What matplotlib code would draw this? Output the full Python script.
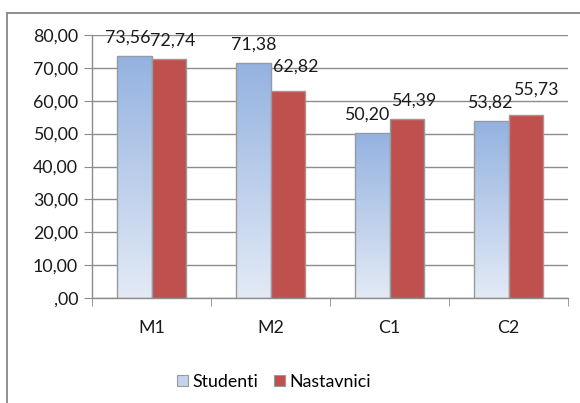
import numpy as np
import matplotlib
matplotlib.use("Agg")
import matplotlib.pyplot as plt
from matplotlib.patches import Rectangle, Patch
from matplotlib.colors import LinearSegmentedColormap

categories = ["M1", "M2", "C1", "C2"]
studenti = [73.56, 71.38, 50.20, 53.82]
nastavnici = [72.74, 62.82, 54.39, 55.73]
series_names = ["Studenti", "Nastavnici"]
y_ticks = [0, 10, 20, 30, 40, 50, 60, 70, 80]

# label nudges in pixels (Excel pushes colliding labels apart)
nudge_s = [(-7, 0), (0, 0), (-6, 0), (-2, 0)]
nudge_n = [(4, 0), (8, 6), (7, 0), (10, 7)]

RED = "#c0504d"
BLUE_TOP = "#94b2e0"
BLUE_BOT = "#e3eaf6"
EDGE = "#9a9a9a"
GRID = "#8c8c8c"
FS = 12.8

plt.rcParams["font.family"] = ["Lato", "DejaVu Sans"]


def fmt(v):
    s = f"{v:.2f}".replace(".", ",")
    return s[1:] if s.startswith("0") else s


fig = plt.figure(figsize=(5.8, 4.03), dpi=100)
fig.patch.set_facecolor("white")
# outer chart border (cut off on the right and bottom like the reference)
fig.add_artist(Rectangle((7 / 580, -0.01), 1.0, 1 - 12.5 / 403 + 0.01,
                         transform=fig.transFigure, fill=False,
                         edgecolor="#868686", linewidth=1.3))

ax = fig.add_axes([92 / 580, 105 / 403, 476 / 580, 263 / 403])
x = np.arange(len(categories))
w = 0.286

cmap = LinearSegmentedColormap.from_list("bl", [BLUE_BOT, BLUE_TOP])
grad = np.linspace(0, 1, 256).reshape(-1, 1)

bars_s = ax.bar(x - w / 2, studenti, w, color="none", edgecolor=EDGE,
                linewidth=1.0, zorder=3)
for b in bars_s:
    im = ax.imshow(grad, cmap=cmap, origin="lower", aspect="auto",
                   extent=[b.get_x(), b.get_x() + b.get_width(), 0, b.get_height()],
                   zorder=2)
    im.set_clip_path(b)
bars_n = ax.bar(x + w / 2, nastavnici, w, color=RED, edgecolor=EDGE,
                linewidth=1.0, zorder=3)

px = 0.72  # points per pixel at 100 dpi
for bars, vals, nudges in ((bars_s, studenti, nudge_s), (bars_n, nastavnici, nudge_n)):
    for b, v, (dx, dy) in zip(bars, vals, nudges):
        ax.annotate(fmt(v), (b.get_x() + b.get_width() / 2, v),
                    xytext=(dx * px, 7.5 + dy * px), textcoords="offset points",
                    ha="center", va="bottom", fontsize=FS, color="#1a1a1a")

ax.set_xlim(-0.5, len(categories) - 0.5)
ax.set_ylim(0, 80)
ax.set_yticks(y_ticks)
ax.set_yticklabels([fmt(t) for t in y_ticks], fontsize=FS, color="#1a1a1a")
ax.set_xticks(x)
ax.set_xticklabels(categories, fontsize=FS, color="#1a1a1a")
ax.set_xticks(np.arange(len(categories) + 1) - 0.5, minor=True)
ax.tick_params(axis="x", which="major", length=0, pad=16)
ax.tick_params(axis="x", which="minor", length=6, color=GRID, direction="out")
ax.tick_params(axis="y", length=6, color=GRID, direction="out", pad=4)
ax.yaxis.grid(True, color=GRID, linewidth=1.0, zorder=0)
ax.set_axisbelow(True)
for s in ("top", "right"):
    ax.spines[s].set_visible(False)
for s in ("left", "bottom"):
    ax.spines[s].set_color(GRID)
    ax.spines[s].set_linewidth(1.0)

handles = [Patch(facecolor="#c3d3ee", edgecolor=EDGE, linewidth=0.8),
           Patch(facecolor=RED, edgecolor=EDGE, linewidth=0.8)]
fig.legend(handles, series_names, loc="center", bbox_to_anchor=(274 / 580, 1 - 382 / 403),
           ncol=2, frameon=False, fontsize=FS, handlelength=0.6, handleheight=0.6,
           handletextpad=0.25, columnspacing=0.9)

fig.savefig("out.png", dpi=100, facecolor="white")
